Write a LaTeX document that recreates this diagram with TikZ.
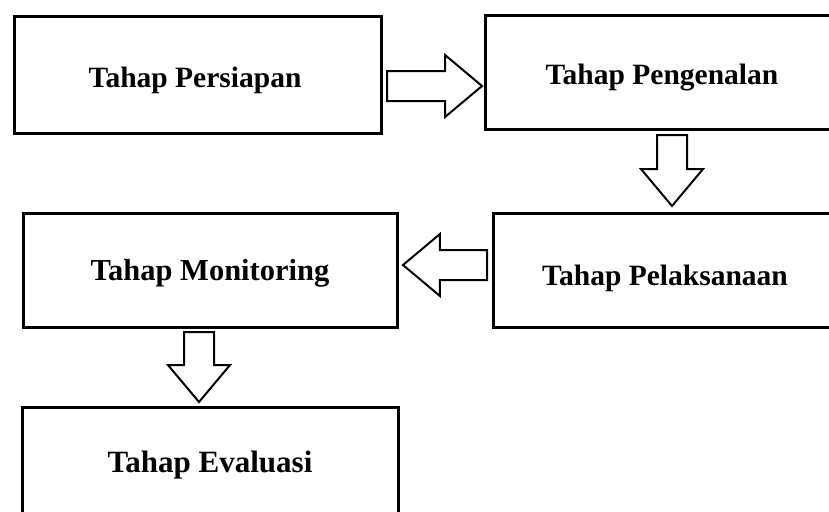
\documentclass[tikz,border=0pt]{standalone}
\usepackage{fontspec}
\setmainfont{Liberation Serif}
\usetikzlibrary{shapes.arrows, positioning}

\tikzset{
  stagebox/.style={draw, line width=3pt, rectangle, inner sep=0pt, outer sep=0pt},
  stagetext/.style={inner sep=0pt, font=\fontsize{29.5}{35}\selectfont\bfseries},
  flowarrow/.style={draw, line width=2pt, fill=white, single arrow, inner xsep=0pt,
    inner ysep=14pt, single arrow head extend=16pt, single arrow tip angle=80,
    outer sep=0pt, anchor=tail}
}

\begin{document}
\begin{tikzpicture}[x=1pt, y=-1pt]
\useasboundingbox (0,0) rectangle (829,511);
\clip (0,0) rectangle (829,511);

% stage boxes
\node[stagebox, minimum width=367pt, minimum height=116pt] (persiapan) at (197.5,75) {};
\node[stagebox, minimum width=360pt, minimum height=113pt] (pengenalan) at (665,72.5) {};
\node[stagebox, minimum width=352pt, minimum height=114pt] (pelaksanaan) at (669,270) {};
\node[stagebox, minimum width=374pt, minimum height=114pt] (monitoring) at (210,270) {};
\node[stagebox, minimum width=376pt, minimum height=123pt] (evaluasi) at (210,468.5) {};

% stage labels
\node[stagetext] (persiapan-t) at (195,80) {Tahap Persiapan};
\node[stagetext] (pengenalan-t) at (662,78) {Tahap Pengenalan};
\node[stagetext] (pelaksanaan-t) at (665,278) {Tahap Pelaksanaan};
\node[stagetext, font=\fontsize{30.5}{36}\selectfont\bfseries] (monitoring-t) at (210,273) {Tahap Monitoring};
\node[stagetext, font=\fontsize{31}{37}\selectfont\bfseries] (evaluasi-t) at (210,465) {Tahap Evaluasi};

% block arrows between stages
\node[flowarrow, minimum height=95pt] (a1) at (387,86) {};
\node[flowarrow, minimum height=71pt, rotate=-90] (a2) at (672,135) {};
\node[flowarrow, minimum height=84pt, rotate=180] (a3) at (487,265) {};
\node[flowarrow, minimum height=70pt, rotate=-90] (a4) at (199,332) {};
\end{tikzpicture}
\end{document}
